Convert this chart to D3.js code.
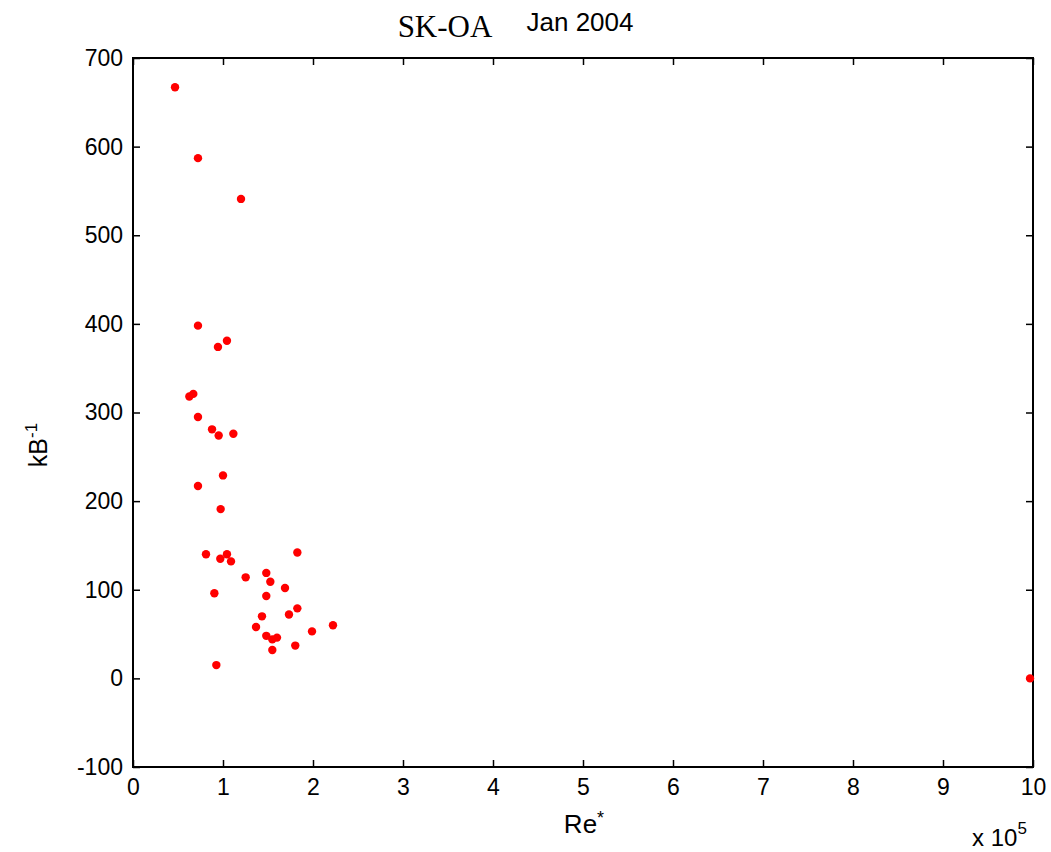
<!DOCTYPE html>
<html>
<head>
<meta charset="utf-8">
<script src="https://cdn.jsdelivr.net/npm/d3@7"></script>
<style>
  body { margin: 0; background: #fff; }
  text { font-family: "Liberation Sans", Arial, sans-serif; }
</style>
</head>
<body>
<div id="chart-area"></div>
<script>
// Re* values (x 10^5)
const reValues = [0.467, 0.722, 1.2, 0.722, 0.944, 1.044, 0.626, 0.67, 0.722, 0.878,
    0.952, 1.115, 1.0, 0.722, 0.974, 0.811, 0.97, 1.044, 1.089, 1.826,
    1.252, 1.481, 1.526, 1.689, 0.904, 1.481, 1.826, 1.733, 1.433, 1.367,
    2.222, 1.989, 1.481, 1.6, 1.548, 1.803, 1.548, 0.926, 9.967];
// kB^-1 values
const kbValues = [667, 587, 541, 398, 374, 381, 318, 321, 295, 281,
    274, 276, 229, 217, 191, 140, 135, 140, 132, 142,
    114, 119, 109, 102, 96, 93, 79, 72, 70, 58,
    60, 53, 48, 46, 44, 37, 32, 15, 0];
const xTicks = [0, 1, 2, 3, 4, 5, 6, 7, 8, 9, 10];
const yTicks = [-100, 0, 100, 200, 300, 400, 500, 600, 700];

const width = 1051, height = 852;
const plotLeft = 133, plotRight = 1033, plotTop = 58, plotBottom = 767;

const svg = d3.select("#chart-area")
    .append("svg")
    .attr("width", width)
    .attr("height", height);

const x = d3.scaleLinear().domain([0, 10]).range([plotLeft, plotRight]);
const y = d3.scaleLinear().domain([-100, 700]).range([plotBottom, plotTop]);

const tickLen = 7;

// axes on all four sides, ticks inward
svg.append("g")
    .attr("transform", `translate(0,${plotBottom})`)
    .call(d3.axisBottom(x).tickValues(xTicks).tickFormat(d => String(d))
        .tickSizeInner(-tickLen).tickSizeOuter(0).tickPadding(8))
    .call(g => g.selectAll("text").attr("font-size", 23).attr("dy", "0.88em"));
svg.append("g")
    .attr("transform", `translate(0,${plotTop})`)
    .call(d3.axisTop(x).tickValues(xTicks).tickSizeInner(-tickLen).tickSizeOuter(0))
    .call(g => g.selectAll("text").remove());
svg.append("g")
    .attr("transform", `translate(${plotLeft},0)`)
    .call(d3.axisLeft(y).tickValues(yTicks).tickFormat(d => String(d))
        .tickSizeInner(-tickLen).tickSizeOuter(0).tickPadding(10))
    .call(g => g.selectAll("text").attr("font-size", 23));
svg.append("g")
    .attr("transform", `translate(${plotRight},0)`)
    .call(d3.axisRight(y).tickValues(yTicks).tickSizeInner(-tickLen).tickSizeOuter(0))
    .call(g => g.selectAll("text").remove());

svg.selectAll(".domain").remove();
svg.selectAll(".tick line").attr("stroke", "#000").attr("stroke-width", 1.5);
svg.selectAll(".tick text").attr("fill", "#000");

svg.append("rect")
    .attr("x", plotLeft)
    .attr("y", plotTop)
    .attr("width", plotRight - plotLeft)
    .attr("height", plotBottom - plotTop)
    .attr("fill", "none")
    .attr("stroke", "#000")
    .attr("stroke-width", 2);

svg.selectAll("circle")
    .data(reValues)
    .enter()
    .append("circle")
    .attr("cx", d => x(d))
    .attr("cy", (d, i) => y(kbValues[i]))
    .attr("r", 4.2)
    .attr("fill", "#ff0000");

// titles and labels
svg.append("text")
    .attr("x", 445)
    .attr("y", 37)
    .attr("text-anchor", "middle")
    .attr("font-size", 31)
    .style("font-family", "'Liberation Serif', 'Times New Roman', serif")
    .text("SK-OA");
svg.append("text")
    .attr("x", 580)
    .attr("y", 31)
    .attr("text-anchor", "middle")
    .attr("font-size", 26)
    .text("Jan 2004");

svg.append("text")
    .attr("transform", "translate(47,445) rotate(-90)")
    .attr("text-anchor", "middle")
    .attr("font-size", 25)
    .html('kB<tspan dy="-10" font-size="17">-1</tspan>');

svg.append("text")
    .attr("x", 584)
    .attr("y", 833)
    .attr("text-anchor", "middle")
    .attr("font-size", 26)
    .html('Re<tspan dy="-9" font-size="18">*</tspan>');

svg.append("text")
    .attr("x", 972)
    .attr("y", 846)
    .attr("font-size", 24)
    .html('x 10<tspan dy="-12" font-size="17">5</tspan>');
</script>
</body>
</html>
